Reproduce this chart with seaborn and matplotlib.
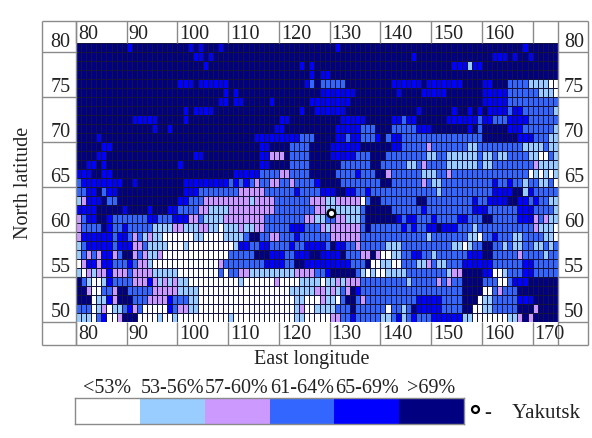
#!/usr/bin/env python3
# -*- coding: utf-8 -*-
import numpy as np
import pandas as pd
import matplotlib
matplotlib.use('Agg')
import matplotlib.pyplot as plt
from matplotlib.colors import ListedColormap
from matplotlib.lines import Line2D
import seaborn as sns

# class of every 1x1 degree cell, lat 80 (top) to lat 50, lon 80 to 174
# 0 <53%, 1 53-56%, 2 57-60%, 3 61-64%, 4 65-69%, 5 >69%
grid_rows = [
    "5555555555 4555555555 5545455545 5555555555 5555555555 5455555555 5555555555 5555555555 5555555545 55555",
    "5555555555 5555555555 5554454555 5555555555 5555555555 5555555555 5555554555 5555555555 5544454554 55555",
    "5555555555 5555555555 5555545555 5555555555 5555454555 5555555555 5555555555 5555444144 5555555555 55555",
    "5555555555 5555555555 5555555555 5555555555 5555554544 5555555555 5555555555 5555555555 5555555555 55555",
    "5555555555 5555555555 4445444444 5555555555 5555543533 3335555555 5544444454 4444445555 4455533331 11100",
    "5555555555 5555555555 5555555554 5455555555 5555555544 4444455555 5554555544 4445555555 4444433333 31110",
    "5555555555 5555555555 5555555544 5445555545 5555554444 4444555555 5555555555 5555555555 4444433333 33333",
    "5555555555 5555555555 5454444555 5555555555 5555455444 4445555555 5555555455 5555455454 5444434433 33331",
    "5555555555 5444445555 5455555555 5555555555 4455555555 5544444555 5544344555 5554444443 4433344443 33333",
    "5555555555 5555545545 5555555555 5555555554 4555555555 5444443335 5533333444 5555555453 5555544433 33331",
    "5555455555 5555555555 5555555555 5555544444 4444333555 5443443334 5344333333 3333333333 5555555444 33311",
    "5555544555 5555555555 5555555555 5555554455 5533335555 4444445555 5544333332 3333333113 3333333311 11311",
    "5555445555 5555555555 5554455555 5555554422 2533335555 4444433355 5333333331 1331111113 1131133331 10031",
    "5544545555 5555555555 4555555555 5555554455 5533335555 5533333355 3333311323 3331111113 1133333333 21111",
    "4445544555 5555555555 5555555555 5444443333 2233335555 5333343335 5233333311 1332333333 3333333330 10101",
    "3444444445 5455555555 5444444444 3434323322 3323333455 5533333333 5533333323 1133333333 3343343313 31130",
    "3344534455 5555555555 5444333333 3322222333 3334333344 4554433433 3333333333 3133333333 3344445514 33333",
    "1244453355 5555555555 4433322222 2222122223 3333332221 1222220355 3333333553 3333333343 3444455443 43311",
    "4444555554 5555455544 3333221111 2222222223 3333333221 1111113555 5533333343 3333333344 4333333444 33331",
    "2344554333 3333443334 4422311112 2222222333 3333322113 3221113555 5554344333 4333344333 5533333444 23211",
    "2333354334 3333311112 2111221101 1121122333 3344433321 2222223533 3333434334 4544433313 3333333333 21110",
    "2444444344 3231211000 0001100001 1113553322 3334333333 2222223333 3333333331 3333333110 3343331133 33110",
    "1344444344 4223111100 0100000000 0144334433 3343344443 5443323333 3111333333 3333110133 5533131133 11313",
    "1323244235 5232112000 0000000000 3333355544 4334445544 4453332252 0011334433 1333333444 5533333233 33133",
    "0244244333 4322100000 0000000023 3333333444 4335544444 4444333500 1100333112 3113334444 4433333344 33333",
    "1021224222 3222211111 0000000030 3322111111 1112222334 5555531010 0111133333 3331225555 4400133344 33333",
    "5310014333 3222421212 1100000000 0010000002 0000111101 1212223333 3333313333 3232335555 3330034445 55555",
    "5520033255 3333322222 1111000000 0000000000 0011111221 2132543333 3333333333 3333335555 0032333555 55555",
    "5550114255 5333222243 3311000000 0000000000 0001100021 1035532333 3333333444 4433335550 1133333444 55555",
    "3330120113 4230000043 2211000000 0000000000 0001200111 1333533333 3033135444 4433335500 1133333555 25555",
    "1110340025 5500001001 0000000000 1000000000 0001100000 2233433333 1134134333 4444441100 0000011252 55555",
]
lats = list(range(80, 49, -1))
lons = list(range(80, 175))

top_lons = [80, 90, 100, 110, 120, 130, 140, 150, 160]
bottom_lons = [80, 90, 100, 110, 120, 130, 140, 150, 160, 170]
lat_ticks = [80, 75, 70, 65, 60, 55, 50]
yakutsk_lon = 130.3
yakutsk_lat = 62.1

classes = ['<53%', '53-56%', '57-60%', '61-64%', '65-69%', '>69%']
colors = ['#ffffff', '#99ccff', '#cc99ff', '#3366ff', '#0000ff', '#000080']

W, H = 592, 439
TXT = '#222222'
EDGE = '#8a8a8a'

sns.set_theme(style='white')
plt.rcParams['font.family'] = ['Liberation Serif', 'DejaVu Serif']

rows = [r.replace(' ', '') for r in grid_rows]
df = pd.DataFrame([[int(c) for c in r] for r in rows], index=lats, columns=lons)
cmap = ListedColormap(colors)


def box(x0, x1, y0, y1):
    # pixel box of the reference to figure fractions
    return [x0 / W, 1 - y1 / H, (x1 - x0) / W, (y1 - y0) / H]


fig = plt.figure(figsize=(W / 100, H / 100), dpi=100)
ax = fig.add_axes(box(76, 558, 44, 323))
sns.heatmap(df, ax=ax, cmap=cmap, vmin=-0.5, vmax=5.5, cbar=False,
            linewidths=0.4, linecolor='#14143c', xticklabels=False, yticklabels=False)
ax.set_xlabel('')
ax.set_ylabel('')

# table frame around the map, in cell units
left, right = -6.75, 100.9
top, bottom = -2.45, 33.6
lon_edges = np.arange(0, 100, 10)
lat_edges = np.arange(1, 32, 5)
ax.vlines(lon_edges, top, 0, color=EDGE, lw=1, clip_on=False)
ax.vlines(lon_edges, 31, bottom, color=EDGE, lw=1, clip_on=False)
ax.vlines([left, right], top, bottom, color=EDGE, lw=1, clip_on=False)
ax.vlines([0, 95], top, bottom, color=EDGE, lw=1, clip_on=False)
ax.hlines(lat_edges, left, 0, color=EDGE, lw=1, clip_on=False)
ax.hlines(lat_edges, 95, right, color=EDGE, lw=1, clip_on=False)
ax.hlines([top, bottom], left, right, color=EDGE, lw=1, clip_on=False)

for lon in top_lons:
    ax.text(lon - 80 + 0.4, -0.05, str(lon), ha='left', va='bottom', fontsize=14.5, color=TXT)
for lon in bottom_lons:
    ax.text(lon - 80 + 0.4, 33.35, str(lon), ha='left', va='bottom', fontsize=14.5, color=TXT)
for lat in lat_ticks:
    ax.text(-1.1, 80 - lat - 0.13, str(lat), ha='right', va='center', fontsize=14.5, color=TXT)
    ax.text(96.2, 80 - lat - 0.13, str(lat), ha='left', va='center', fontsize=14.5, color=TXT)

ax.plot(yakutsk_lon - 80, 81 - yakutsk_lat, 'o', ms=5.5, mfc='white', mec='black', mew=1.8)

fig.text(24 / W, 1 - 183 / H, 'North latitude', rotation=90, ha='center', va='center',
         fontsize=14.5, color=TXT)
fig.text(312 / W, 1 - 360 / H, 'East longitude', ha='center', va='center',
         fontsize=14.5, color=TXT)

# class legend under the map
lax = fig.add_axes(box(75, 464, 399, 425))
sns.heatmap(np.arange(6).reshape(1, 6), ax=lax, cmap=cmap, vmin=-0.5, vmax=5.5, cbar=False,
            xticklabels=classes, yticklabels=False)
lax.xaxis.tick_top()
lax.tick_params(axis='x', length=0, pad=1, labelsize=14.5, labelcolor=TXT, rotation=0)
for s in lax.spines.values():
    s.set_visible(True)
    s.set_color(EDGE)
    s.set_linewidth(1)

handle = Line2D([], [], marker='o', ls='', ms=5, mfc='white', mec='black', mew=1.6)
fig.legend(handles=[handle], labels=['-    Yakutsk'], loc='center left', frameon=False,
           bbox_to_anchor=(466 / W, 1 - 413 / H), fontsize=15, labelcolor=TXT,
           handletextpad=0.0, handlelength=0.9, borderpad=0, borderaxespad=0)

fig.savefig('out.png', dpi=100, facecolor='white')
